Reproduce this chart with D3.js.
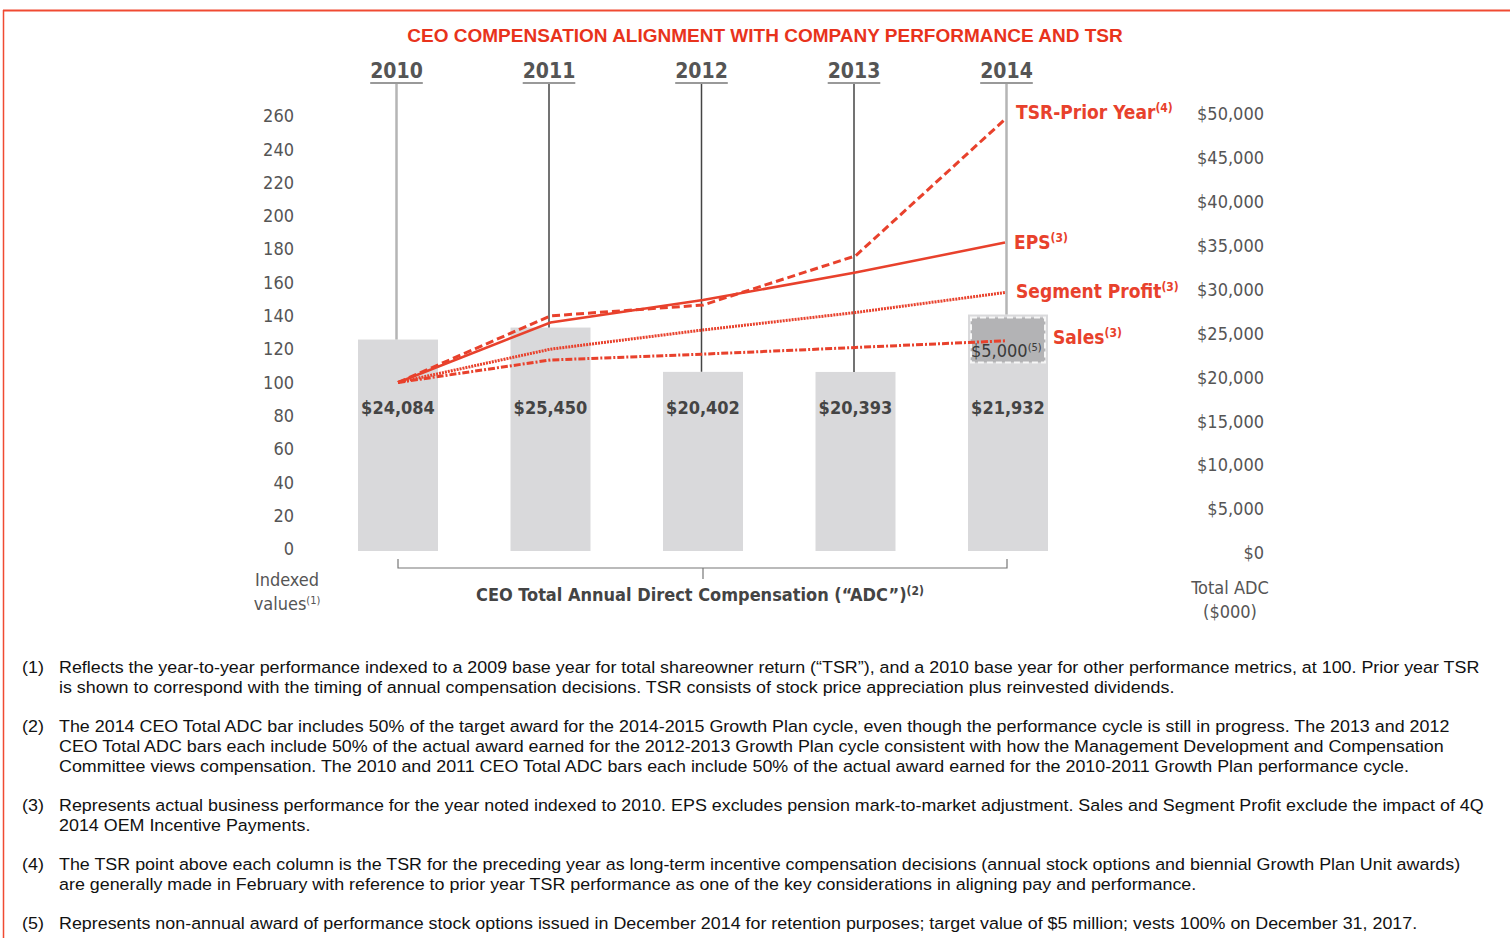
<!DOCTYPE html>
<html>
<head>
<meta charset="UTF-8">
<style>
  body { margin: 0; background: #fff; }
  svg { display: block; }
  .cond { font-family: "DejaVu Sans Condensed", "DejaVu Sans", sans-serif; }
  .note { font-family: "Liberation Sans", Arial, sans-serif; font-size: 17px; fill: #111; }
</style>
</head>
<body>
<svg id="chart" width="1510" height="938"></svg>
<script src="https://cdn.jsdelivr.net/npm/d3@7"></script>
<script>
// chart values
var years = ["2010", "2011", "2012", "2013", "2014"];
var adc = [24084, 25450, 20402, 20393, 21932];
var adcLabels = ["$24,084", "$25,450", "$20,402", "$20,393", "$21,932"];
var retention = [0, 0, 0, 0, 5000];
var tsr = [100, 140, 146.5, 176, 258];
var eps = [100, 136, 149.5, 166, 184];
var segProfit = [100, 120, 131.5, 142, 154];
var sales = [100, 113.5, 117, 121, 125];
var leftTicks = [0, 20, 40, 60, 80, 100, 120, 140, 160, 180, 200, 220, 240, 260];
var rightTicks = [0, 5000, 10000, 15000, 20000, 25000, 30000, 35000, 40000, 45000, 50000];
var notes = [
  ["(1)", ["Reflects the year-to-year performance indexed to a 2009 base year for total shareowner return (\u201cTSR\u201d), and a 2010 base year for other performance metrics, at 100. Prior year TSR",
           "is shown to correspond with the timing of annual compensation decisions. TSR consists of stock price appreciation plus reinvested dividends."]],
  ["(2)", ["The 2014 CEO Total ADC bar includes 50% of the target award for the 2014-2015 Growth Plan cycle, even though the performance cycle is still in progress. The 2013 and 2012",
           "CEO Total ADC bars each include 50% of the actual award earned for the 2012-2013 Growth Plan cycle consistent with how the Management Development and Compensation",
           "Committee views compensation. The 2010 and 2011 CEO Total ADC bars each include 50% of the actual award earned for the 2010-2011 Growth Plan performance cycle."]],
  ["(3)", ["Represents actual business performance for the year noted indexed to 2010. EPS excludes pension mark-to-market adjustment. Sales and Segment Profit exclude the impact of 4Q",
           "2014 OEM Incentive Payments."]],
  ["(4)", ["The TSR point above each column is the TSR for the preceding year as long-term incentive compensation decisions (annual stock options and biennial Growth Plan Unit awards)",
           "are generally made in February with reference to prior year TSR performance as one of the key considerations in aligning pay and performance."]],
  ["(5)", ["Represents non-annual award of performance stock options issued in December 2014 for retention purposes; target value of $5 million; vests 100% on December 31, 2017."]]
];

var red = "#e8412c", grey = "#555";
var svg = d3.select("#chart");

// frame
svg.append("line").attr("x1", 3).attr("x2", 1510).attr("y1", 10.5).attr("y2", 10.5)
  .attr("stroke", "#f04a32").attr("stroke-width", 2);
svg.append("line").attr("x1", 3.5).attr("x2", 3.5).attr("y1", 10).attr("y2", 938)
  .attr("stroke", "#f04a32").attr("stroke-width", 1.5);

svg.append("text").attr("x", 765).attr("y", 42).attr("text-anchor", "middle")
  .style("font-family", "Liberation Sans, Arial, sans-serif").style("font-weight", "bold")
  .style("font-size", "19px").attr("fill", "#e8331c")
  .text("CEO COMPENSATION ALIGNMENT WITH COMPANY PERFORMANCE AND TSR");

// scales
var x = d3.scalePoint().domain(years).range([398, 1008]);
var yIdx = d3.scaleLinear().domain([0, 260]).range([549, 116]);
var yAdc = d3.scaleLinear().domain([0, 50000]).range([551, 112]);
var barW = 80;

// bars
svg.selectAll(".bar").data(years).enter().append("rect")
  .attr("x", d => x(d) - barW / 2).attr("width", barW)
  .attr("y", (d, i) => yAdc(adc[i] + retention[i]))
  .attr("height", (d, i) => yAdc(0) - yAdc(adc[i] + retention[i]))
  .attr("fill", "#d9d9db");

// retention award box
years.forEach(function(d, i) {
  if (!retention[i]) return;
  var top = yAdc(adc[i] + retention[i]), bot = yAdc(adc[i]);
  svg.append("rect").attr("x", x(d) - barW / 2 + 3).attr("width", barW - 6)
    .attr("y", top + 3).attr("height", bot - top + 1)
    .attr("fill", "#b3b3b5").attr("stroke", "#f6f6f6").attr("stroke-width", 2)
    .attr("stroke-dasharray", "6,3");
  var t = svg.append("text").attr("class", "cond").attr("x", x(d) - 37).attr("y", bot - 1)
    .style("font-size", "18px").attr("fill", "#3a3a3a");
  t.append("tspan").text("$5,000");
  t.append("tspan").attr("dy", -6).style("font-size", "11px").text("(5)");
});

// vertical year lines + labels
var lineCol = ["#b5b5b5", "#444", "#444", "#444", "#b5b5b5"];
years.forEach(function(d, i) {
  var cx = x(d) - 1.5;
  svg.append("line").attr("x1", cx).attr("x2", cx).attr("y1", 84)
    .attr("y2", yAdc(adc[i] + retention[i]))
    .attr("stroke", lineCol[i]).attr("stroke-width", i == 0 || i == 4 ? 2.5 : 1.5);
  var lbl = svg.append("text").attr("class", "cond").attr("x", cx).attr("y", 78)
    .attr("text-anchor", "middle").style("font-size", "21px").style("font-weight", "bold")
    .attr("fill", grey).text(d);
  var w = lbl.node().getComputedTextLength();
  svg.append("line").attr("x1", cx - w / 2).attr("x2", cx + w / 2).attr("y1", 83).attr("y2", 83)
    .attr("stroke", "#999").attr("stroke-width", 2);
  svg.append("text").attr("class", "cond").attr("x", x(d)).attr("y", 414)
    .attr("text-anchor", "middle").style("font-size", "18px").style("font-weight", "bold")
    .attr("fill", "#444").text(adcLabels[i]);
});

// axes
var leftAxis = svg.append("g").attr("transform", "translate(294,0)")
  .call(d3.axisLeft(yIdx).tickValues(leftTicks).tickSize(0).tickPadding(0));
var rightAxis = svg.append("g").attr("transform", "translate(1264,2)")
  .call(d3.axisLeft(yAdc).tickValues(rightTicks).tickSize(0).tickPadding(0)
    .tickFormat(d => "$" + d3.format(",")(d)));
[leftAxis, rightAxis].forEach(function(a) {
  a.select(".domain").remove();
  a.selectAll("text").attr("class", "cond").style("font-size", "18px").attr("fill", grey);
});

// performance lines
var series = [
  { vals: tsr, dash: "8,4", w: 3 },
  { vals: eps, dash: null, w: 2.5 },
  { vals: segProfit, dash: "2,1", w: 3 },
  { vals: sales, dash: "7,2,2,2", w: 3 }
];
var line = d3.line().x((v, i) => x(years[i]) - (i == 4 ? 3 : 0)).y(v => yIdx(v));
series.forEach(function(s) {
  svg.append("path").attr("d", line(s.vals)).attr("fill", "none").attr("stroke", red)
    .attr("stroke-width", s.w).attr("stroke-dasharray", s.dash);
});

// line labels
var labels = [
  { t: "TSR-Prior Year", sup: "(4)", x: 1016, y: 119 },
  { t: "EPS", sup: "(3)", x: 1014, y: 249 },
  { t: "Segment Profit", sup: "(3)", x: 1016, y: 298 },
  { t: "Sales", sup: "(3)", x: 1053, y: 344 }
];
labels.forEach(function(l) {
  var t = svg.append("text").attr("class", "cond").attr("x", l.x).attr("y", l.y)
    .style("font-size", "19px").style("font-weight", "bold").attr("fill", red);
  t.append("tspan").text(l.t);
  t.append("tspan").attr("dy", -7).style("font-size", "12px").text(l.sup);
});

// bracket under bars
svg.append("path")
  .attr("d", "M" + x("2010") + ",559V568H" + (x("2014") - 1) + "V559")
  .attr("fill", "none").attr("stroke", "#777").attr("stroke-width", 1.2);
svg.append("line").attr("x1", x("2012")).attr("x2", x("2012")).attr("y1", 568).attr("y2", 579)
  .attr("stroke", "#777").attr("stroke-width", 1.2);
var adcT = svg.append("text").attr("class", "cond").attr("x", 476).attr("y", 601)
  .style("font-size", "18px").style("font-weight", "bold").attr("fill", "#444");
adcT.append("tspan").text("CEO Total Annual Direct Compensation (\u201cADC\u201d)");
adcT.append("tspan").attr("dy", -6).style("font-size", "12px").text("(2)");

// axis captions
function caption(lines, cx, y0) {
  lines.forEach(function(l, i) {
    var t = svg.append("text").attr("class", "cond").attr("x", cx).attr("y", y0 + i * 24)
      .attr("text-anchor", "middle").style("font-size", "18px").attr("fill", grey);
    t.append("tspan").text(l[0]);
    if (l[1]) t.append("tspan").attr("dy", -6).style("font-size", "11px").text(l[1]);
  });
}
caption([["Indexed"], ["values", "(1)"]], 287, 586);
caption([["Total ADC"], ["($000)"]], 1230, 594);

// footnotes (slightly widened to match the source's text run)
var ny = 673;
notes.forEach(function(n) {
  svg.append("text").attr("class", "note").attr("transform", "translate(22,0) scale(1.052,1)")
    .attr("y", ny).text(n[0]);
  n[1].forEach(function(l, i) {
    svg.append("text").attr("class", "note").attr("transform", "translate(59,0) scale(1.052,1)")
      .attr("y", ny + i * 20).text(l);
  });
  ny += n[1].length * 20 + 19;
});
</script>
</body>
</html>
